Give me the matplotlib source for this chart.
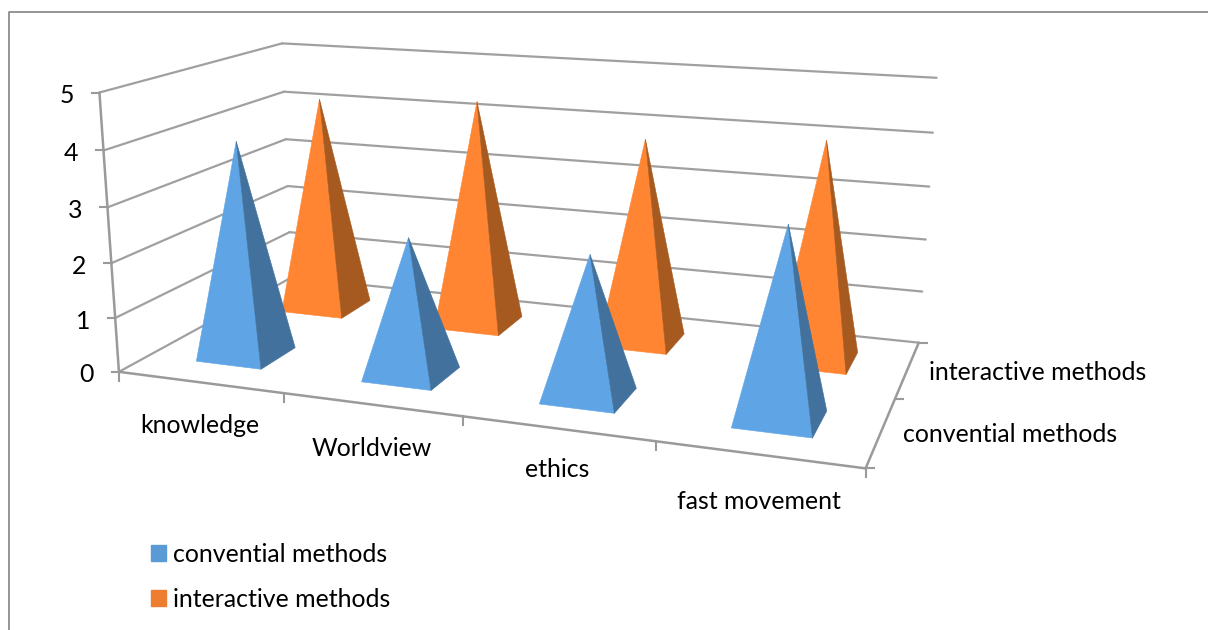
"""3-D pyramid column chart drawn on a flat axes through a fitted camera matrix."""

from __future__ import annotations

import matplotlib

matplotlib.use("Agg")
import matplotlib.pyplot as plt
import numpy as np
from matplotlib.patches import Patch

categories = ["knowledge", "Worldview", "ethics", "fast movement"]
series_names = ["convential methods", "interactive methods"]
convential = [3.97, 2.5, 2.5, 3.3]
interactive = [4.2, 4.35, 3.85, 4.05]
value_ticks = [0, 1, 2, 3, 4, 5]

GRID = "#a0a0a0"
AXIS = "#9a9a9a"
FRAME = "#8c8c8c"
FONT = "Lato"
FS = 17.9

# where the corners of the plot box sit in the picture (category, series, value) -> pixel
anchors = [
    ((0, 0, 0), (118.3, 371.7)),
    ((0, 0, 5), (100.0, 92.7)),
    ((4, 0, 0), (865.7, 468.3)),
    ((0, 2, 0), (292.0, 278.0)),
    ((0, 2, 1), (290.0, 231.7)),
    ((0, 2, 2), (287.3, 186.0)),
    ((0, 2, 3), (285.7, 139.3)),
    ((0, 2, 4), (284.0, 91.7)),
    ((0, 2, 5), (281.7, 43.3)),
    ((4, 2, 0), (918.3, 342.7)),
    ((4, 2, 1), (922.3, 291.7)),
    ((4, 2, 2), (926.0, 239.3)),
    ((4, 2, 3), (929.3, 186.7)),
    ((4, 2, 4), (932.7, 132.7)),
    ((4, 2, 5), (936.7, 77.7)),
]
# the source places its category labels a little unevenly
label_drop = [43, 44, 41, 47]


def fit_camera(points):
    rows, rhs = [], []
    for (x, y, z), (u, v) in points:
        rows.append([x, y, z, 1, 0, 0, 0, 0, -u * x, -u * y, -u * z])
        rhs.append(u)
        rows.append([0, 0, 0, 0, x, y, z, 1, -v * x, -v * y, -v * z])
        rhs.append(v)
    sol = np.linalg.lstsq(np.array(rows, float), np.array(rhs, float), rcond=None)[0]
    return np.append(sol, 1.0).reshape(3, 4)


CAMERA = fit_camera(anchors)


def project(x, y, z):
    u, v, w = CAMERA @ np.array([x, y, z, 1.0])
    return u / w, v / w


def line3d(ax, a, b, color=GRID, lw=1.6, zorder=1):
    pa, pb = project(*a), project(*b)
    ax.plot([pa[0], pb[0]], [pa[1], pb[1]], color=color, lw=lw, zorder=zorder,
            solid_capstyle="round")


def pyramid(ax, cx, cy, height, front, side, half=0.2, half_y=0.2, zorder=3):
    tip = project(cx, cy, height)
    fl = project(cx - half, cy - half_y, 0)
    fr = project(cx + half, cy - half_y, 0)
    br = project(cx + half, cy + half_y, 0)
    ax.fill(*zip(fl, fr, tip), color=front, lw=0.4, zorder=zorder)
    ax.fill(*zip(fr, br, tip), color=side, lw=0.4, zorder=zorder)


def main() -> None:
    plt.rcParams["font.family"] = [FONT, "DejaVu Sans"]
    fig = plt.figure(figsize=(12.08, 6.30), dpi=100)
    ax = fig.add_axes([0, 0, 1, 1])
    ax.set_xlim(0, 1208)
    ax.set_ylim(630, 0)
    ax.axis("off")

    # outer chart frame
    ax.plot([9, 9, 1208], [630, 12, 12], color=FRAME, lw=1.3)

    # walls
    for v in value_ticks:
        line3d(ax, (0, 0, v), (0, 2, v))
        line3d(ax, (0, 2, v), (4, 2, v))
        x0, y0 = project(0, 0, v)
        ax.plot([x0 - 7, x0], [y0, y0], color=AXIS, lw=1.5)
        ax.text(x0 - 25, y0 + 3, str(v), ha="right", va="center", fontsize=FS, color="black")

    # axis edges
    line3d(ax, (0, 0, 0), (0, 0, 5), color=AXIS, lw=1.8)
    line3d(ax, (0, 0, 0), (4, 0, 0), color=AXIS, lw=1.8)
    line3d(ax, (4, 0, 0), (4, 2, 0), color=AXIS, lw=1.8)

    for i in range(len(categories) + 1):
        x0, y0 = project(i, 0, 0)
        ax.plot([x0, x0], [y0, y0 + 9], color=AXIS, lw=1.5)
    for j in range(len(series_names) + 1):
        x0, y0 = project(4, j, 0)
        ax.plot([x0, x0 + 8], [y0, y0], color=AXIS, lw=1.5)

    # back row first so the front row covers it
    for i, val in enumerate(interactive):
        pyramid(ax, i + 0.5, 1.5, val, "#ff8533", "#a65a20", zorder=3 + i * 0.01)
    for i, val in enumerate(convential):
        pyramid(ax, i + 0.5, 0.5, val, "#5fa5e6", "#41719c", zorder=4 + i * 0.01)

    for i, name in enumerate(categories):
        x0, y0 = project(i + 0.5, 0, 0)
        ax.text(x0, y0 + label_drop[i], name, ha="center", va="center", fontsize=FS, color="black")
    for j, name in enumerate(series_names):
        x0, y0 = project(4, j + 0.5, 0)
        ax.text(x0 + 22, y0 + 3, name, ha="left", va="center", fontsize=FS, color="black")

    handles = [Patch(color="#5b9bd5"), Patch(color="#ed7d31")]
    ax.legend(handles, series_names, loc="upper left", bbox_to_anchor=(151 / 1208, 1 - 543 / 630),
              frameon=False, fontsize=FS, handlelength=0.6, handleheight=0.6,
              handletextpad=0.28, labelspacing=0.88, borderpad=0, borderaxespad=0)

    fig.savefig("out.png", dpi=100)
    plt.close(fig)


if __name__ == "__main__":
    main()
